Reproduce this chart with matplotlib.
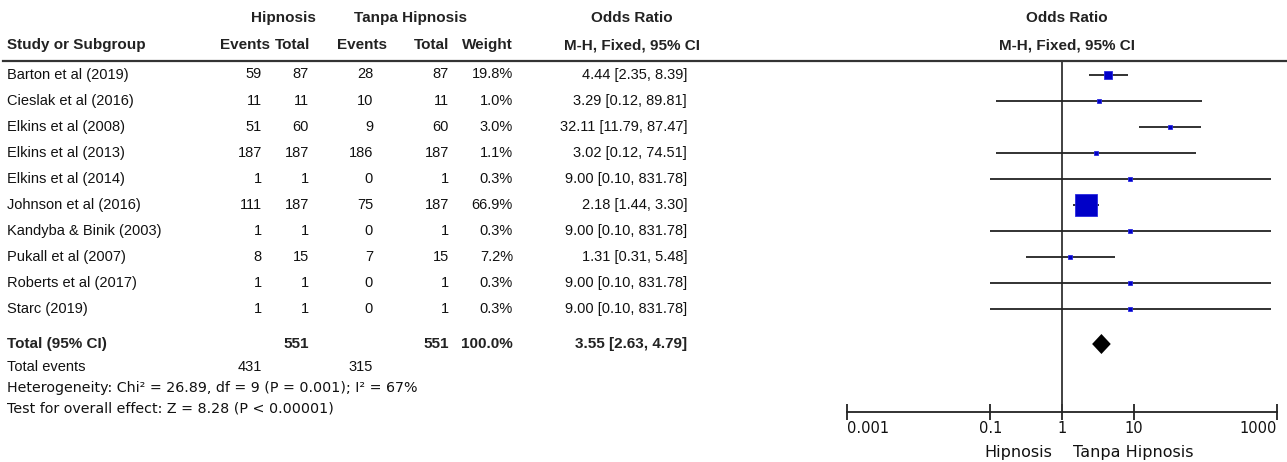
import numpy as np
import matplotlib
matplotlib.use('Agg')
import matplotlib.pyplot as plt

plt.rcParams['font.family'] = ['Liberation Sans', 'DejaVu Sans']

# data
studies = ['Barton et al (2019)', 'Cieslak et al (2016)', 'Elkins et al (2008)',
           'Elkins et al (2013)', 'Elkins et al (2014)', 'Johnson et al (2016)',
           'Kandyba & Binik (2003)', 'Pukall et al (2007)', 'Roberts et al (2017)',
           'Starc (2019)']
hip_events = [59, 11, 51, 187, 1, 111, 1, 8, 1, 1]
hip_total = [87, 11, 60, 187, 1, 187, 1, 15, 1, 1]
ctl_events = [28, 10, 9, 186, 0, 75, 0, 7, 0, 0]
ctl_total = [87, 11, 60, 187, 1, 187, 1, 15, 1, 1]
weights = [19.8, 1.0, 3.0, 1.1, 0.3, 66.9, 0.3, 7.2, 0.3, 0.3]
odds = [4.44, 3.29, 32.11, 3.02, 9.00, 2.18, 9.00, 1.31, 9.00, 9.00]
ci_low = [2.35, 0.12, 11.79, 0.12, 0.10, 1.44, 0.10, 0.31, 0.10, 0.10]
ci_high = [8.39, 89.81, 87.47, 74.51, 831.78, 3.30, 831.78, 5.48, 831.78, 831.78]

total_or, total_low, total_high = 3.55, 2.63, 4.79
total_weight = 100.0
total_hip, total_ctl = 551, 551
events_hip, events_ctl = 431, 315
tick_vals = [0.001, 0.1, 1, 10, 1000]
tick_labels = ['0.001', '0.1', '1', '10', '1000']

W, H = 1287, 462
fig = plt.figure(figsize=(W / 100, H / 100), dpi=100)

# text layer in pixel coordinates
bg = fig.add_axes([0, 0, 1, 1])
bg.set_xlim(0, W)
bg.set_ylim(H, 0)
bg.axis('off')

tc = '#111111'
hb = dict(fontsize=11, fontweight='bold', color='#222222', va='center')
nt = dict(fontsize=10.5, color=tc, va='center')
ft = dict(fontsize=10.3, color=tc, va='center', family='DejaVu Sans')

# header
bg.text(283, 18, 'Hipnosis', ha='center', **hb)
bg.text(410, 18, 'Tanpa Hipnosis', ha='center', **hb)
bg.text(632, 18, 'Odds Ratio', ha='center', **hb)
bg.text(1067, 18, 'Odds Ratio', ha='center', **hb)
bg.text(7, 45, 'Study or Subgroup', ha='left', **hb)
bg.text(270, 45, 'Events', ha='right', **hb)
bg.text(310, 45, 'Total', ha='right', **hb)
bg.text(387, 45, 'Events', ha='right', **hb)
bg.text(449, 45, 'Total', ha='right', **hb)
bg.text(513, 45, 'Weight', ha='right', **hb)
bg.text(632, 45, 'M-H, Fixed, 95% CI', ha='center', **hb)
bg.text(1067, 45, 'M-H, Fixed, 95% CI', ha='center', **hb)
bg.plot([3, W], [61, 61], color='#333333', lw=1.6)

row0, step = 74.5, 26.1
for i, name in enumerate(studies):
    y = row0 + step * i
    bg.text(7, y, name, ha='left', **nt)
    bg.text(262, y, str(hip_events[i]), ha='right', **nt)
    bg.text(309, y, str(hip_total[i]), ha='right', **nt)
    bg.text(373, y, str(ctl_events[i]), ha='right', **nt)
    bg.text(449, y, str(ctl_total[i]), ha='right', **nt)
    bg.text(513, y, f'{weights[i]:.1f}%', ha='right', **nt)
    bg.text(687, y, f'{odds[i]:.2f} [{ci_low[i]:.2f}, {ci_high[i]:.2f}]', ha='right', **nt)

yt = 344
bg.text(7, yt, 'Total (95% CI)', ha='left', **hb)
bg.text(309, yt, str(total_hip), ha='right', **hb)
bg.text(449, yt, str(total_ctl), ha='right', **hb)
bg.text(513, yt, f'{total_weight:.1f}%', ha='right', **hb)
bg.text(687, yt, f'{total_or:.2f} [{total_low:.2f}, {total_high:.2f}]', ha='right', **hb)
bg.text(7, 367, 'Total events', ha='left', **nt)
bg.text(262, 367, str(events_hip), ha='right', **nt)
bg.text(373, 367, str(events_ctl), ha='right', **nt)
bg.text(7, 388, 'Heterogeneity: Chi² = 26.89, df = 9 (P = 0.001); I² = 67%', ha='left', **ft)
bg.text(7, 409, 'Test for overall effect: Z = 8.28 (P < 0.00001)', ha='left', **ft)

# forest plot
x0, x1 = 847, 1277
ytop, ybot = 61, 412
ax = fig.add_axes([x0 / W, (H - ybot) / H, (x1 - x0) / W, (ybot - ytop) / H])
ax.patch.set_alpha(0)
ax.set_xscale('log')
ax.set_xlim(0.001, 1000)
ax.set_ylim((ybot - row0) / step, (ytop - row0) / step)
for s in ['top', 'right', 'left']:
    ax.spines[s].set_visible(False)
ax.spines['bottom'].set_linewidth(1.3)
ax.spines['bottom'].set_color('#222222')
ax.axvline(1, color='#333333', lw=1.3)

for i in range(len(studies)):
    ax.plot([ci_low[i], ci_high[i]], [i, i], color='#222222', lw=1.3, solid_capstyle='butt')
    side = 3 + 0.27 * weights[i]
    ax.plot(odds[i], i, marker='s', ms=side * 0.72, mfc='#0000C8', mec='#2a2ae0',
            mew=0.6, ls='none')

yd = (yt - row0) / step
hd = 10 / step
ax.fill([total_low, total_or, total_high, total_or], [yd, yd - hd, yd, yd + hd],
        color='black', lw=0)

ax.set_yticks([])
ax.set_xticks(tick_vals)
ax.set_xticklabels(tick_labels, fontsize=10.5, color=tc, family='DejaVu Sans')
ax.minorticks_off()
ax.tick_params(axis='x', direction='inout', length=11, width=1.3, color='#222222', pad=1)
labs = ax.get_xticklabels()
labs[0].set_ha('left')
labs[-1].set_ha('right')

bg.text(1052, 452, 'Hipnosis', ha='right', fontsize=11.5, color=tc, va='center',
        family='DejaVu Sans')
bg.text(1073, 452, 'Tanpa Hipnosis', ha='left', fontsize=11.5, color=tc, va='center',
        family='DejaVu Sans')

fig.savefig('out.png', dpi=100)
plt.close()
